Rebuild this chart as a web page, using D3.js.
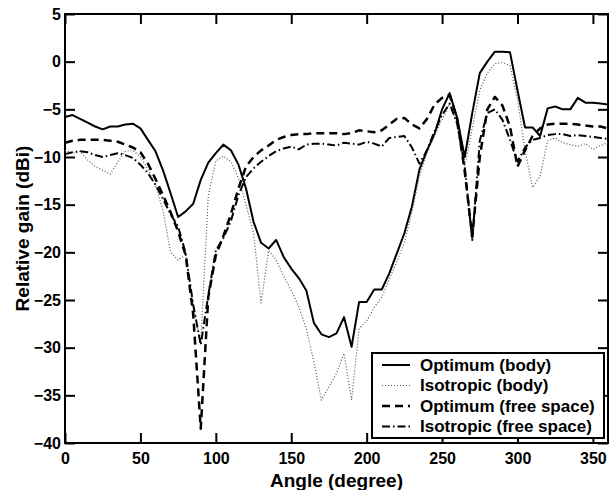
<!DOCTYPE html>
<html>
<head>
<meta charset="utf-8">
<script src="https://cdn.jsdelivr.net/npm/d3@7"></script>
<style>
  body { margin: 0; background: #fff; }
  text { font-family: "Liberation Sans", Arial, sans-serif; font-weight: bold; fill: #000; }
  .frame { fill: none; stroke: #000; stroke-width: 2; }
  .axis path { display: none; }
  .axis line { stroke: #000; stroke-width: 2; }
  .axis text { font-size: 16px; }
</style>
</head>
<body>
<div id="chart"></div>
<script>
// angle samples (degree)
var angles = [0,5,10,15,20,25,30,35,40,45,50,55,60,65,70,75,80,85,90,95,100,
  105,110,115,120,125,130,135,140,145,150,155,160,165,170,175,180,185,190,195,200,
  205,210,215,220,225,230,235,240,245,250,255,260,265,270,275,280,285,290,295,300,
  305,310,315,320,325,330,335,340,345,350,355,360];

// relative gain (dBi) per series
var optBody = [-5.8,-5.6,-6.0,-6.4,-6.8,-7.1,-6.8,-6.8,-6.6,-6.5,-7.0,
  -8.2,-9.4,-11.4,-13.8,-16.3,-15.7,-14.9,-12.4,-10.6,-9.6,
  -8.7,-9.3,-10.8,-13.3,-16.8,-19.0,-19.6,-18.7,-20.5,-21.7,
  -22.7,-24.0,-27.4,-28.6,-28.9,-28.5,-26.8,-29.9,-25.2,-25.2,
  -23.9,-23.9,-22.2,-20.1,-18.0,-15.2,-11.3,-9.3,-7.6,-5.0,
  -3.3,-5.9,-10.0,-5.4,-1.2,0.0,1.05,1.05,1.0,-3.0,
  -6.9,-6.9,-7.8,-4.9,-4.7,-5.0,-5.0,-3.8,-4.3,-4.3,-4.4,-4.5];

var isoBody = [-9.3,-9.6,-9.4,-10.3,-11.0,-11.4,-11.8,-10.5,-9.4,-9.3,-10.0,
  -11.3,-13.0,-15.6,-20.0,-20.8,-20.3,-25.5,-29.6,-14.0,-10.4,
  -9.9,-10.5,-12.2,-15.0,-18.0,-25.3,-19.8,-20.8,-22.5,-24.0,
  -25.7,-28.0,-31.5,-35.5,-34.1,-32.7,-30.6,-35.5,-28.0,-27.2,
  -25.8,-24.7,-22.8,-21.0,-19.0,-15.8,-12.0,-9.6,-7.7,-6.1,
  -4.4,-6.5,-11.0,-7.0,-3.0,-1.2,-0.2,-0.1,-0.4,-4.0,
  -9.3,-13.2,-12.0,-8.3,-8.0,-8.5,-8.7,-8.9,-8.6,-9.2,-8.8,-8.5];

var optFree = [-8.5,-8.3,-8.2,-8.2,-8.2,-8.2,-8.3,-8.4,-8.7,-9.0,-9.5,
  -10.7,-12.3,-14.0,-15.8,-17.8,-20.3,-26.5,-38.5,-24.7,-20.3,
  -18.3,-16.0,-13.3,-11.0,-10.0,-9.3,-8.8,-8.2,-7.9,-7.7,
  -7.6,-7.6,-7.5,-7.5,-7.5,-7.5,-7.6,-7.5,-7.2,-7.3,
  -7.4,-7.2,-6.6,-6.0,-5.9,-6.6,-7.0,-6.0,-4.5,-3.8,
  -3.5,-6.0,-11.5,-18.4,-10.0,-5.0,-3.7,-4.6,-6.8,-11.0,
  -9.3,-7.8,-7.0,-6.6,-6.5,-6.5,-6.5,-6.6,-6.7,-6.8,-6.8,-7.0];

var isoFree = [-9.7,-9.5,-9.4,-9.5,-9.8,-10.0,-9.8,-9.6,-9.8,-10.1,-10.8,
  -11.7,-12.9,-14.4,-16.0,-17.3,-20.1,-25.5,-29.7,-24.5,-19.8,
  -18.5,-16.7,-14.0,-12.1,-11.2,-10.5,-9.9,-9.4,-9.1,-8.9,
  -9.2,-8.7,-8.6,-8.6,-8.7,-8.8,-8.5,-8.6,-8.7,-8.4,
  -8.6,-8.9,-8.0,-7.9,-7.8,-9.0,-10.7,-9.3,-7.3,-5.6,
  -4.4,-6.5,-11.0,-18.7,-8.3,-5.4,-5.0,-6.1,-8.2,-10.5,
  -9.0,-8.2,-8.0,-7.7,-7.6,-7.6,-7.8,-7.7,-7.8,-7.9,-8.0,-8.1];

var xTicks = [0,50,100,150,200,250,300,350];
var yTicks = [-40,-35,-30,-25,-20,-15,-10,-5,0,5];

var seriesNames = ["Optimum (body)", "Isotropic (body)", "Optimum (free space)", "Isotropic (free space)"];
var seriesValues = [optBody, isoBody, optFree, isoFree];

// line look for each series, same order as names
var styles = [
  {stroke: "#000", width: 2, dash: null},
  {stroke: "#555", width: 1.2, dash: "1,2"},
  {stroke: "#000", width: 2.5, dash: "8,5"},
  {stroke: "#000", width: 2, dash: "8,3,1.5,3"}
];

var W = 610, H = 490;
var pL = 65, pR = 608, pT = 14, pB = 443;

var svg = d3.select("#chart").append("svg")
  .attr("width", W)
  .attr("height", H);

var x = d3.scaleLinear().domain([0, 360]).range([pL, pR]);
var y = d3.scaleLinear().domain([-40, 5]).range([pB, pT]);

// axes, ticks point inward on all four sides
svg.append("g")
  .attr("class", "axis")
  .attr("transform", "translate(0," + pB + ")")
  .call(d3.axisBottom(x).tickValues(xTicks).tickSizeInner(-10).tickSizeOuter(0).tickPadding(10));

svg.append("g")
  .attr("class", "axis")
  .attr("transform", "translate(0," + pT + ")")
  .call(d3.axisTop(x).tickValues(xTicks).tickSizeInner(-10).tickSizeOuter(0).tickFormat(""));

svg.append("g")
  .attr("class", "axis")
  .attr("transform", "translate(" + pL + ",0)")
  .call(d3.axisLeft(y).tickValues(yTicks).tickSizeInner(-10).tickSizeOuter(0).tickPadding(4));

svg.append("g")
  .attr("class", "axis")
  .attr("transform", "translate(" + pR + ",0)")
  .call(d3.axisRight(y).tickValues(yTicks).tickSizeInner(-10).tickSizeOuter(0).tickFormat(""));

svg.append("rect")
  .attr("class", "frame")
  .attr("x", pL)
  .attr("y", pT)
  .attr("width", pR - pL)
  .attr("height", pB - pT);

// the four curves
var line = d3.line()
  .x(function(d) { return x(d[0]); })
  .y(function(d) { return y(d[1]); });

seriesValues.forEach(function(vals, i) {
  var pts = angles.map(function(a, k) { return [a, vals[k]]; });
  var st = styles[i];
  svg.append("path")
    .datum(pts)
    .attr("d", line)
    .attr("fill", "none")
    .attr("stroke", st.stroke)
    .attr("stroke-width", st.width)
    .attr("stroke-dasharray", st.dash)
    .attr("stroke-linejoin", "round");
});

// axis titles
svg.append("text")
  .attr("x", (pL + pR) / 2)
  .attr("y", 487)
  .attr("text-anchor", "middle")
  .style("font-size", "19px")
  .text("Angle (degree)");

svg.append("text")
  .attr("transform", "translate(29," + ((pT + pB) / 2) + ") rotate(-90)")
  .attr("text-anchor", "middle")
  .style("font-size", "19px")
  .text("Relative gain (dBi)");

// legend
var lg = svg.append("g");
lg.append("rect")
  .attr("x", 372)
  .attr("y", 353)
  .attr("width", 232)
  .attr("height", 85)
  .attr("fill", "#fff")
  .attr("stroke", "#000")
  .attr("stroke-width", 2);

seriesNames.forEach(function(name, i) {
  var ry = 365 + i * 20.5;
  var st = styles[i];
  lg.append("line")
    .attr("x1", 382).attr("x2", 410)
    .attr("y1", ry).attr("y2", ry)
    .attr("stroke", st.stroke)
    .attr("stroke-width", st.width)
    .attr("stroke-dasharray", st.dash);
  lg.append("text")
    .attr("x", 420)
    .attr("y", ry)
    .attr("dy", "0.35em")
    .style("font-size", "17px")
    .text(name);
});
</script>
</body>
</html>
